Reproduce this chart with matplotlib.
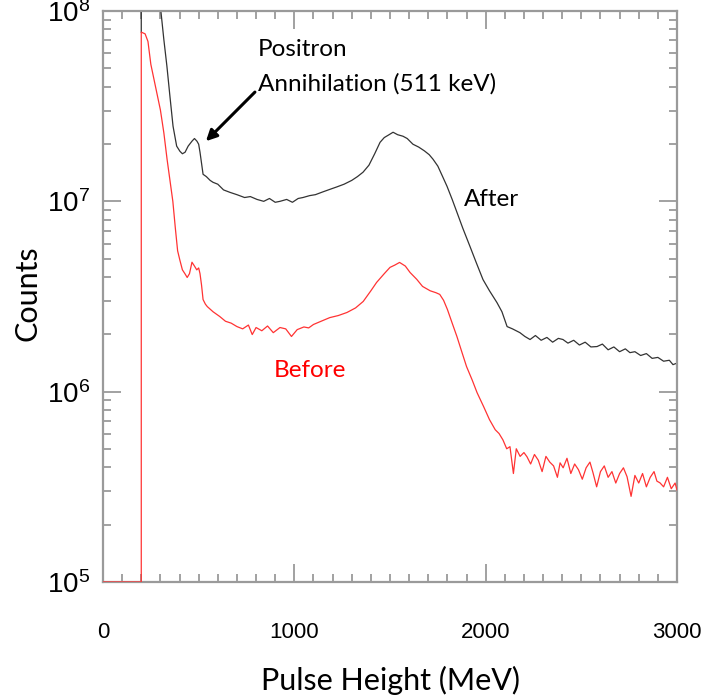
import matplotlib
matplotlib.use("Agg")
import matplotlib.pyplot as plt
from matplotlib.ticker import FixedLocator, LogLocator, NullFormatter, FuncFormatter, MultipleLocator
import numpy as np

plt.rcParams["font.family"] = ["Liberation Sans", "DejaVu Sans"]
plt.rcParams["mathtext.fontset"] = "custom"
plt.rcParams["mathtext.rm"] = "Liberation Sans"
plt.rcParams["mathtext.it"] = "Liberation Sans:italic"
plt.rcParams["mathtext.bf"] = "Liberation Sans:bold"

# ---- data (pulse height, log10 counts) ----
after_x = [200, 200, 280, 303, 318, 334, 350, 366, 385, 402, 415, 429, 445, 465, 478, 491, 500, 507, 515, 523,
           540, 560, 575, 600, 630, 664, 700, 740, 770, 805, 840, 870, 900, 925, 960, 990, 1020, 1045, 1080,
           1110, 1150, 1186, 1220, 1260, 1300, 1330, 1359, 1390, 1420, 1448, 1470, 1495, 1516, 1540, 1568,
           1590, 1620, 1650, 1680, 1705, 1725, 1750, 1775, 1798, 1825, 1850, 1880, 1918, 1950, 1986, 2020,
           2059, 2085, 2112, 2140, 2179, 2205, 2232, 2260, 2290, 2320, 2350, 2380, 2404, 2430, 2460, 2490,
           2520, 2550, 2582, 2610, 2640, 2670, 2700, 2730, 2754, 2780, 2810, 2840, 2870, 2900, 2930, 2960, 2979, 3000]
after_logy = [7.889, 8.3, 8.2, 7.995, 7.85, 7.71, 7.55, 7.395, 7.29, 7.263, 7.25, 7.258, 7.29, 7.316, 7.33, 7.316, 7.30, 7.258, 7.20, 7.142,
              7.13, 7.11, 7.10, 7.09, 7.06, 7.047, 7.035, 7.02, 7.025, 7.01, 7.00, 7.015, 6.995, 7.0, 7.01, 6.995, 7.015, 7.02, 7.03,
              7.035, 7.05, 7.063, 7.075, 7.09, 7.11, 7.13, 7.153, 7.19, 7.25, 7.31, 7.335, 7.35, 7.363, 7.35, 7.342,
              7.33, 7.30, 7.285, 7.265, 7.245, 7.221, 7.185, 7.13, 7.079, 7.01, 6.942, 6.86, 6.763, 6.68, 6.589, 6.53,
              6.468, 6.42, 6.342, 6.33, 6.31, 6.29, 6.274, 6.295, 6.27, 6.285, 6.26, 6.28, 6.274, 6.255, 6.27, 6.245,
              6.26, 6.235, 6.237, 6.25, 6.22, 6.235, 6.21, 6.225, 6.205, 6.21, 6.19, 6.2, 6.175, 6.18, 6.16, 6.165, 6.142, 6.15]

before_x = [0, 200, 200, 220, 235, 250, 275, 300, 318, 335, 350, 365, 378, 390, 402, 415, 428, 440, 452, 465, 478, 490,
            500, 507, 515, 523, 535, 545, 575, 610, 640, 670, 700, 730, 760, 780, 800, 830, 860, 890, 925, 955, 985,
            1015, 1050, 1075, 1100, 1140, 1185, 1230, 1275, 1320, 1360, 1400, 1430, 1470, 1500, 1525, 1550, 1580,
            1605, 1640, 1670, 1710, 1740, 1760, 1780, 1800, 1825, 1850, 1875, 1900, 1930, 1955, 1990, 2020, 2050,
            2070, 2090, 2110, 2127, 2145, 2160, 2180, 2200, 2216, 2235, 2255, 2275, 2295, 2315, 2335, 2355, 2375,
            2389, 2405, 2425, 2445, 2465, 2485, 2505, 2525, 2545, 2561, 2580, 2600, 2620, 2640, 2660, 2680, 2700,
            2720, 2739, 2760, 2780, 2800, 2820, 2840, 2860, 2880, 2895, 2911, 2930, 2950, 2970, 2990, 3000]
before_logy = [5.0, 5.0, 7.889, 7.88, 7.84, 7.72, 7.60, 7.48, 7.36, 7.22, 7.11, 7.0, 6.86, 6.74, 6.69, 6.64, 6.62, 6.60, 6.62, 6.68, 6.66, 6.64,
               6.65, 6.62, 6.56, 6.484, 6.46, 6.447, 6.42, 6.395, 6.37, 6.36, 6.342, 6.33, 6.35, 6.30, 6.337, 6.32, 6.345, 6.31, 6.337, 6.33, 6.29,
               6.326, 6.34, 6.335, 6.353, 6.37, 6.389, 6.40, 6.416, 6.44, 6.474, 6.53, 6.574, 6.62, 6.653, 6.665, 6.679, 6.66,
               6.626, 6.59, 6.553, 6.53, 6.52, 6.511, 6.48, 6.432, 6.36, 6.289, 6.21, 6.132, 6.06, 5.995, 5.92, 5.853, 5.80,
               5.78, 5.747, 5.70, 5.711, 5.57, 5.70, 5.66, 5.68, 5.658, 5.62, 5.67, 5.64, 5.58, 5.66, 5.63, 5.61, 5.55,
               5.626, 5.60, 5.65, 5.57, 5.62, 5.59, 5.54, 5.60, 5.63, 5.574, 5.50, 5.58, 5.61, 5.55, 5.58, 5.52, 5.57,
               5.60, 5.553, 5.45, 5.56, 5.52, 5.57, 5.50, 5.55, 5.58, 5.53, 5.521, 5.50, 5.55, 5.49, 5.52, 5.484]

x_ticks = [0, 1000, 2000, 3000]
y_ticks = [1e5, 1e6, 1e7, 1e8]

# ---- figure ----
W, H = 706, 698
fig = plt.figure(figsize=(W / 100, H / 100), dpi=100)
ax = fig.add_axes([103 / W, 1 - 582 / H, (677 - 103) / W, (582 - 11) / H])

ax.plot(after_x, 10 ** np.array(after_logy), color="#333333", lw=0.9, zorder=2)
ax.plot(before_x, 10 ** np.array(before_logy), color="#ff3333", lw=0.9, zorder=3)

ax.set_yscale("log")
ax.set_xlim(0, 3000)
ax.set_ylim(1e5, 1e8)

spine_c = "#9a9a9a"
for s in ax.spines.values():
    s.set_color(spine_c)
    s.set_linewidth(1.6)

ax.xaxis.set_major_locator(FixedLocator(x_ticks))
ax.xaxis.set_minor_locator(MultipleLocator(100))
ax.yaxis.set_major_locator(FixedLocator(y_ticks))
ax.yaxis.set_minor_locator(LogLocator(base=10, subs=np.arange(2, 10)))
ax.yaxis.set_minor_formatter(NullFormatter())

def yfmt(v, pos):
    return r"$\mathregular{10^{%d}}$" % int(round(np.log10(v)))
ax.yaxis.set_major_formatter(FuncFormatter(yfmt))

ax.tick_params(which="both", direction="in", top=True, right=True, color=spine_c, width=1.3)
ax.tick_params(which="major", length=13)
ax.tick_params(which="minor", length=6)
ax.tick_params(axis="x", which="major", pad=29, labelsize=16)
ax.tick_params(axis="y", which="major", pad=9, labelsize=20)

lbl_font = "Lato"
fig.text(391 / W, 1 - 680 / H, "Pulse Height (MeV)", fontsize=22, family=lbl_font,
         ha="center", va="center")
fig.text(27 / W, 1 - 293 / H, "Counts", fontsize=22, family=lbl_font,
         ha="center", va="center", rotation=90)

fs = 17.5
ax.text(810, 10 ** 7.80, "Positron", fontsize=fs, family=lbl_font, va="center", ha="left")
ax.text(810, 10 ** 7.616, "Annihilation (511 keV)", fontsize=fs, family=lbl_font, va="center", ha="left")
ax.text(1887, 10 ** 7.01, "After", fontsize=fs, family=lbl_font, va="center", ha="left")
ax.text(894, 10 ** 6.11, "Before", fontsize=fs, family=lbl_font, va="center", ha="left", color="#ff0000")

ax.annotate("", xy=(538, 10 ** 7.316), xytext=(794, 10 ** 7.574),
            arrowprops=dict(arrowstyle="-|>", color="black", lw=2.2, mutation_scale=16,
                            shrinkA=0, shrinkB=0))

fig.savefig("out.png", dpi=100)
